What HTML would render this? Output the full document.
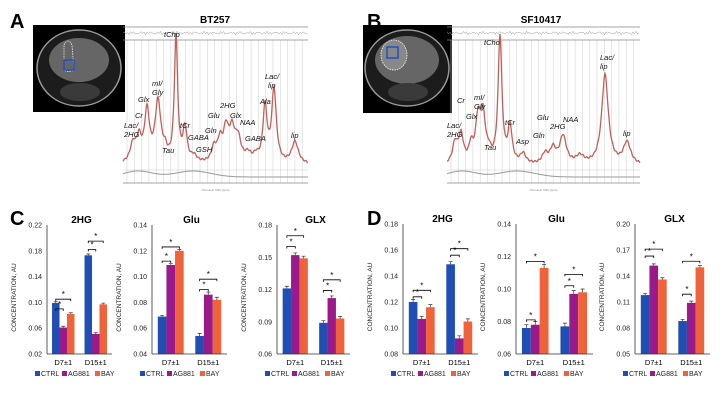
<!DOCTYPE html>
<html><head><meta charset="utf-8">
<style>
body{margin:0;background:#fff;}
svg{display:block;font-family:"Liberation Sans",sans-serif;}
</style></head>
<body>
<svg id="fig" width="726" height="405" viewBox="0 0 726 405" xmlns="http://www.w3.org/2000/svg">
<rect width="726" height="405" fill="#fff"/>
<g font-weight="bold" font-size="20" fill="#000">
<text x="10" y="28">A</text>
<text x="367" y="28">B</text>
<text x="10" y="225">C</text>
<text x="367" y="225">D</text>
</g>
<text x="215" y="23" font-size="10" font-weight="bold" text-anchor="middle">BT257</text>
<text x="541" y="23" font-size="10" font-weight="bold" text-anchor="middle">SF10417</text>
<g>
<rect x="33" y="25" width="92" height="87" fill="#000"/>
<ellipse cx="79" cy="68" rx="42" ry="38" fill="#1c1c1c" stroke="#999" stroke-width="1.5"/>
<ellipse cx="79" cy="60" rx="30" ry="22" fill="#666"/>
<ellipse cx="80" cy="92" rx="20" ry="9" fill="#3a3a3a"/>
<path d="M64,45 q4,-8 8,0 l2,25 q-6,3 -10,0 z" fill="none" stroke="#eee" stroke-width="0.8" stroke-dasharray="1.5,1"/>
<rect x="64" y="60" width="10" height="10" fill="none" stroke="#2050c0" stroke-width="1.5"/>
</g>
<g>
<rect x="363" y="25" width="89" height="88" fill="#000"/>
<ellipse cx="407" cy="68" rx="42" ry="38" fill="#1c1c1c" stroke="#999" stroke-width="1.5"/>
<ellipse cx="407" cy="60" rx="32" ry="24" fill="#666"/>
<ellipse cx="408" cy="92" rx="20" ry="9" fill="#3a3a3a"/>
<ellipse cx="394" cy="55" rx="13" ry="15" fill="#888" stroke="#fff" stroke-width="0.8" stroke-dasharray="1.5,1"/>
<rect x="387" y="47" width="11" height="11" fill="none" stroke="#2050c0" stroke-width="1.5"/>
</g>
<g id="specA"></g>
<g id="specB"></g>
<g id="charts"></g>
</svg>
<script>
const NS="http://www.w3.org/2000/svg";
function mk(p,t,a){const e=document.createElementNS(NS,t);for(const k in a)e.setAttribute(k,a[k]);p.appendChild(e);return e;}
const peaksA=[[133,18,3.5],[139,22,3],[147,50,3],[158,60,3.5],[165,9,2.5],[176,125,2],[185,33,2.5],[194,6,3.5],[214,14,3],[220,20,3],[226,30,3],[232,30,3.5],[238,22,3.5],[248,8,4],[256,6,3],[265,55,2.5],[274,73,2.8],[295,22,4]];
const peaksB=[[455,20,3],[461,28,3],[471,16,2.5],[478,42,3],[483,45,3],[489,8,2.5],[500,127,2.3],[510,36,2.5],[523,10,3.5],[545,10,3.5],[553,15,3.5],[563,28,4],[580,8,5],[605,90,4],[627,22,4.5]];
const labelsA=[["Lac/",124,128],["2HG",124,137],["Cr",135,118],["Glx",138,102],["mI/",152,86],["Gly",152,95],["Tau",162,153],["tCho",164,37],["tCr",180,128],["GABA",188,140],["GSH",196,152],["Gln",205,133],["Glu",208,118],["2HG",220,108],["Glx",230,118],["NAA",240,125],["GABA",245,141],["Ala",260,104],["Lac/",265,79],["lip",268,88],["lip",291,138]];
const labelsB=[["Lac/",447,128],["2HG",447,137],["Cr",457,103],["Glx",466,119],["mI/",474,100],["Gly",474,109],["Tau",484,150],["tCho",484,45],["tCr",505,125],["Asp",516,144],["Gln",533,138],["Glu",537,120],["2HG",550,129],["NAA",563,122],["Lac/",600,60],["lip",600,69],["lip",623,136]];
function spectrum(g,x0,x1,peaks,labels,base){
  for(let x=x0+4;x<x1;x+=7.3) mk(g,"line",{x1:x,x2:x,y1:40,y2:183,stroke:"#d6d6d6","stroke-width":0.6});
  mk(g,"line",{x1:x0,x2:x1,y1:27,y2:27,stroke:"#888","stroke-width":0.8});
  mk(g,"line",{x1:x0,x2:x1,y1:40,y2:40,stroke:"#888","stroke-width":0.8});
  mk(g,"line",{x1:x0,x2:x1,y1:183,y2:183,stroke:"#888","stroke-width":0.8});
  mk(g,"line",{x1:x0,x2:x1,y1:170,y2:170,stroke:"#ccc","stroke-width":0.5});
  let r="";for(let x=x0;x<=x1;x+=1.5){r+=(x==x0?"M":"L")+x+","+(33+Math.sin(x*2.3)*1.2+Math.sin(x*0.7)*0.6).toFixed(1);}
  mk(g,"path",{d:r,fill:"none",stroke:"#999","stroke-width":0.5});
  let d="",b="";
  for(let x=x0;x<=x1;x+=0.5){let y=base;for(const p of peaks){const u=(x-p[0])/p[2];y-=p[1]/(1+u*u);}
    y+=Math.sin(x*1.7)*0.8;d+=(x==x0?"M":"L")+x.toFixed(1)+","+y.toFixed(1);
    const bb=177-6*Math.exp(-Math.pow((x-x0-15)/20,2))-6*Math.exp(-Math.pow((x-x0-70)/25,2));b+=(x==x0?"M":"L")+x.toFixed(1)+","+bb.toFixed(1);}
  mk(g,"path",{d:b,fill:"none",stroke:"#999","stroke-width":1});
  mk(g,"path",{d:d,fill:"none",stroke:"#c0605a","stroke-width":1.3});
  for(const l of labels){const t=mk(g,"text",{x:l[1],y:l[2],"font-size":"7.5",fill:"#111","font-style":"italic"});t.textContent=l[0];}
  const ax=mk(g,"text",{x:(x0+x1)/2,y:191,"font-size":"3","text-anchor":"middle",fill:"#888"});ax.textContent="Chemical Shift (ppm)";
}
spectrum(document.getElementById("specA"),123,308,peaksA,labelsA,165);
spectrum(document.getElementById("specB"),447,640,peaksB,labelsB,166);

const groups=["D7±1","D15±1"];
const seriesNames=["CTRL","AG881","BAY"];
const colors=["#1f4eb4","#9a1a8c","#f0623a"];
const titles=["2HG","Glu","GLX","2HG","Glu","GLX"];
const ctrlVals=[[0.099,0.173],[0.069,0.054],[0.121,0.089],[0.120,0.149],[0.076,0.077],[0.118,0.088]];
const ag881Vals=[[0.061,0.051],[0.109,0.086],[0.152,0.112],[0.107,0.092],[0.078,0.097],[0.152,0.109]];
const bayVals=[[0.082,0.097],[0.120,0.082],[0.149,0.093],[0.116,0.105],[0.113,0.098],[0.136,0.150]];
const errVals=[[0.002,0.002],[0.001,0.002],[0.002,0.002],[0.002,0.002],[0.002,0.002],[0.002,0.002]];
const yMins=[0.02,0.04,0.06,0.08,0.06,0.05];
const yMaxs=[0.22,0.14,0.18,0.18,0.14,0.20];
const ySteps=[0.04,0.02,0.03,0.02,0.02,0.03];
const brackets=[[[0,0,1,0.090],[0,0,2,0.105],[1,0,1,0.182],[1,0,2,0.195]],
[[0,0,1,0.112],[0,0,2,0.123],[1,0,1,0.090],[1,0,2,0.098]],
[[0,0,1,0.160],[0,0,2,0.170],[1,0,1,0.119],[1,0,2,0.129]],
[[0,0,1,0.124],[0,0,2,0.129],[1,0,1,0.156],[1,0,2,0.161]],
[[0,0,1,0.081],[0,0,2,0.117],[1,0,1,0.102],[1,0,2,0.109]],
[[0,0,1,0.163],[0,0,2,0.171],[1,0,1,0.119],[1,0,2,0.157]]];
const layout=[[47,112,225,354],[152,227,225,354],[277,350,225,354],[403,478,224,354],[516,593,224,354],[635,710,224,354]];
const charts=document.getElementById("charts");
for(let c=0;c<6;c++){
  const [L,R,T,B]=layout[c];
  const g=mk(charts,"g",{});
  
  
  const y=v=>B-(v-yMins[c])/(yMaxs[c]-yMins[c])*(B-T);
  const cw=(R-L)/2, bw=cw*0.23;
  const bx=(gi,si)=>L+cw*gi+cw/2+(si-1)*bw-bw/2;
  const tt=mk(g,"text",{x:(L+R)/2+2,y:T-2,"font-size":"10","font-weight":"bold","text-anchor":"middle"});
  tt.textContent=titles[c];
  for(let v=yMins[c];v<=yMaxs[c]+1e-9;v+=ySteps[c]){
    const t=mk(g,"text",{x:L-5,y:y(v)+2.5,"font-size":"7","text-anchor":"end",fill:"#222"});
    t.textContent=v.toFixed(2);
  }
  const yt=mk(g,"text",{transform:`translate(${L-31},${(T+B)/2+8}) rotate(-90)`,"font-size":"6.5","text-anchor":"middle",fill:"#222"});
  yt.textContent="CONCENTRATION, AU";
  const all=[ctrlVals[c],ag881Vals[c],bayVals[c]];
  for(let gi=0;gi<2;gi++){
    for(let si=0;si<3;si++){
      const v=all[si][gi];
      const r=mk(g,"rect",{x:bx(gi,si),y:y(v),width:bw,height:B-y(v),fill:colors[si]});
      
      const e=errVals[c][gi],cx=bx(gi,si)+bw/2;
      mk(g,"path",{d:`M${cx},${y(v)} V${y(v+e)} M${cx-2},${y(v+e)} H${cx+2}`,stroke:"#333","stroke-width":0.7});
    }
    const xl=mk(g,"text",{x:L+cw*gi+cw/2,y:B+11,"font-size":"7.5","text-anchor":"middle"});
    xl.textContent=groups[gi];
  }
  for(const br of brackets[c]){
    const x1=bx(br[0],br[1])+bw/2,x2=bx(br[0],br[2])+bw/2,yy=y(br[3]);
    mk(g,"path",{d:`M${x1},${yy+2} V${yy} H${x2} V${yy+2}`,fill:"none",stroke:"#000","stroke-width":0.8});
    const s=mk(g,"text",{x:(x1+x2)/2,y:yy-2,"font-size":"8","text-anchor":"middle"});s.textContent="*";
  }
  mk(g,"line",{x1:L,x2:L,y1:T,y2:B,stroke:"#333","stroke-width":0.8});
  mk(g,"line",{x1:L,x2:R,y1:B,y2:B,stroke:"#333","stroke-width":0.8});
  let lx=L-12;
  for(let si=0;si<3;si++){
    const lg=mk(g,"g",{});
    
    mk(lg,"rect",{x:lx,y:B+17,width:5,height:5,fill:colors[si]});
    const t=mk(lg,"text",{x:lx+6,y:B+22,"font-size":"7",fill:"#222"});t.textContent=seriesNames[si];
    lx+=[27,33,0][si];
  }
}
</script>
</body></html>
